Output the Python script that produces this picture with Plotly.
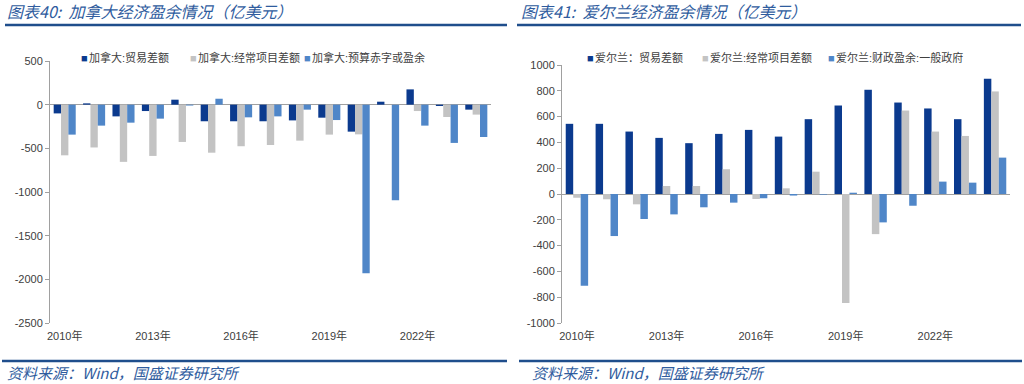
import plotly.graph_objects as go

years = list(range(2010, 2025))
tick_years = [2010, 2013, 2016, 2019, 2022]
tick_text = [f"{y}年" for y in tick_years]

ca_yticks = [500, 0, -500, -1000, -1500, -2000, -2500]
ie_yticks = [1000, 800, 600, 400, 200, 0, -200, -400, -600, -800, -1000]

# Canada (亿美元)
ca_trade = [-100, 15, -134, -73, 57, -190, -190, -190, -180, -149, -309, 34, 175, -15, -57]
ca_current = [-580, -490, -655, -587, -427, -550, -476, -462, -412, -343, -340, 0, -73, -141, -114]
ca_budget = [-343, -240, -206, -160, -10, 68, -145, -134, -57, -176, -1931, -1094, -240, -438, -370]

# Ireland (亿美元)
ie_trade = [544, 544, 484, 435, 394, 466, 497, 445, 580, 686, 808, 709, 663, 580, 893]
ie_current = [-29, -41, -80, 62, 62, 192, -39, 44, 173, -845, -311, 647, 484, 450, 795]
ie_fiscal = [-712, -326, -194, -158, -103, -67, -33, -12, -5, 10, -220, -91, 96, 88, 282]

ca_names = ["加拿大:贸易差额", "加拿大:经常项目差额", "加拿大:预算赤字或盈余"]
ie_names = ["爱尔兰：贸易差额", "爱尔兰:经常项目差额", "爱尔兰:财政盈余:一般政府"]

colors = ["#0B3A8E", "#C3C3C3", "#4F86C8"]
title_color = "#2F5C9E"
font_fam = "Liberation Sans, Noto Sans CJK SC, sans-serif"

# legend item positions (px from left of page)
ca_leg_x = [79, 188, 302]
ie_leg_x = [585, 700, 826]
leg_y = 57

W, H = 1024, 384

fig = go.Figure()
for name, vals, c in zip(ca_names, [ca_trade, ca_current, ca_budget], colors):
    fig.add_trace(go.Bar(x=years, y=vals, name=name, marker_color=c, showlegend=False,
                         marker_line_width=0, xaxis="x", yaxis="y"))
for name, vals, c in zip(ie_names, [ie_trade, ie_current, ie_fiscal], colors):
    fig.add_trace(go.Bar(x=years, y=vals, name=name, marker_color=c, showlegend=False,
                         marker_line_width=0, xaxis="x2", yaxis="y2"))

axis_common = dict(showgrid=False, linecolor="#A0A0A0", linewidth=1, automargin=False,
                   showline=True, ticks="outside", ticklen=4, tickcolor="#A0A0A0",
                   zeroline=True, zerolinecolor="#A0A0A0", zerolinewidth=1,
                   tickfont=dict(size=11, color="#404040", family=font_fam))
xaxis_common = dict(range=[2009.5, 2024.5], tickvals=tick_years, ticktext=tick_text,
                    showline=False, ticks="", showgrid=False, zeroline=False, automargin=False,
                    ticklabelstandoff=5,
                    tickfont=dict(size=11, color="#404040", family=font_fam))

fig.update_layout(
    width=W, height=H,
    margin=dict(l=0, r=0, t=0, b=0, autoexpand=False),
    paper_bgcolor="white", plot_bgcolor="white",
    barmode="group", bargap=0.25, bargroupgap=0,
    font=dict(family=font_fam, color="#404040"),
    showlegend=False,
    xaxis=dict(domain=[50/W, 491/W], anchor="y", **xaxis_common),
    yaxis=dict(domain=[1-323/H, 1-61/H], anchor="x", range=[-2500, 500],
               tickvals=ca_yticks, ticktext=[str(v) for v in ca_yticks], **axis_common),
    xaxis2=dict(domain=[562/W, 1010/W], anchor="y2", **xaxis_common),
    yaxis2=dict(domain=[1-323/H, 1-65/H], anchor="x2", range=[-1000, 1000],
                tickvals=ie_yticks, ticktext=[str(v) for v in ie_yticks], **axis_common),
)

# legends (as text items)
for xs, names in [(ca_leg_x, ca_names), (ie_leg_x, ie_names)]:
    for xx, name, c in zip(xs, names, colors):
        fig.add_annotation(x=xx/W, y=1-leg_y/H, xref="paper", yref="paper", xanchor="left",
                           yanchor="middle", showarrow=False,
                           text=(f'<span style="color:{c};font-size:11px">■</span>'
                                 f'<span style="font-size:5px"> </span>{name}'),
                           font=dict(size=11, color="#404040", family=font_fam))

# titles
for xx, txt in [(5/W, "图表40:  加拿大经济盈余情况（亿美元）"),
                (519/W, "图表41:  爱尔兰经济盈余情况（亿美元）")]:
    fig.add_annotation(x=xx, y=1-11/H, xref="paper", yref="paper", xanchor="left",
                       yanchor="middle", showarrow=False, text=f"<i>{txt}</i>",
                       font=dict(size=16, color=title_color, family="Noto Sans CJK SC"))
# sources
for xx in [5/W, 530/W]:
    fig.add_annotation(x=xx, y=1-372/H, xref="paper", yref="paper", xanchor="left",
                       yanchor="middle", showarrow=False,
                       text="<i>资料来源：Wind，国盛证券研究所</i>",
                       font=dict(size=15, color=title_color, family="Noto Sans CJK SC"))

# rule lines
for x0, x1 in [(5, 507), (517, 1021)]:
    fig.add_shape(type="line", xref="paper", yref="paper", x0=x0/W, x1=x1/W,
                  y0=1-25/H, y1=1-25/H, line=dict(color="#1F4E8C", width=2.5))
for x0, x1 in [(2, 507), (519, 1022)]:
    fig.add_shape(type="line", xref="paper", yref="paper", x0=x0/W, x1=x1/W,
                  y0=1-361/H, y1=1-361/H, line=dict(color="#1F4E8C", width=2.5))

fig.write_html("out.html", config={"displayModeBar": False, "staticPlot": True},
               post_script="document.body.style.margin='0';document.body.style.overflow='hidden';")
